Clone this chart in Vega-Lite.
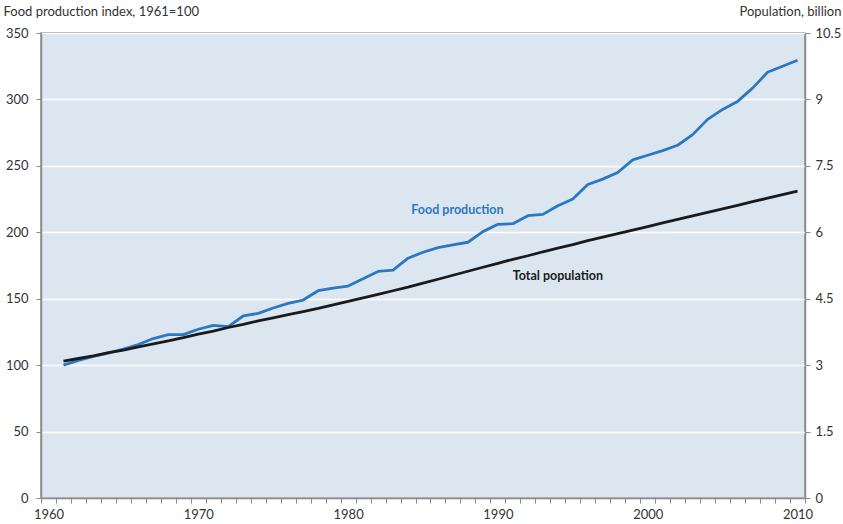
{
  "$schema": "https://vega.github.io/schema/vega-lite/v6.json",
  "width": 764,
  "height": 465,
  "autosize": "none",
  "padding": {"left": 41, "top": 33, "right": 38, "bottom": 26},
  "background": "white",
  "config": {
    "font": "Lato",
    "view": {"stroke": "#8c8c8c", "strokeWidth": 1.5, "fill": "#dce6f1"},
    "axis": {
      "labelFont": "Lato", "labelFontSize": 13, "labelColor": "#333333",
      "titleFont": "Lato", "titleFontSize": 13, "titleFontWeight": "normal", "titleColor": "#333333",
      "domainColor": "#8c8c8c", "domainWidth": 1.5, "tickColor": "#8c8c8c", "tickSize": 5, "tickWidth": 1
    }
  },
  "data": {"values": [
    {"year": 1961, "food": 100, "population": 3.09},
    {"year": 1962, "food": 103.5, "population": 3.15},
    {"year": 1963, "food": 106.5, "population": 3.21},
    {"year": 1964, "food": 109, "population": 3.28},
    {"year": 1965, "food": 112, "population": 3.34},
    {"year": 1966, "food": 115.5, "population": 3.41},
    {"year": 1967, "food": 120, "population": 3.48},
    {"year": 1968, "food": 123, "population": 3.55},
    {"year": 1969, "food": 123, "population": 3.62},
    {"year": 1970, "food": 127, "population": 3.70},
    {"year": 1971, "food": 130, "population": 3.77},
    {"year": 1972, "food": 129, "population": 3.85},
    {"year": 1973, "food": 137, "population": 3.92},
    {"year": 1974, "food": 139, "population": 4.00},
    {"year": 1975, "food": 143, "population": 4.07},
    {"year": 1976, "food": 146.5, "population": 4.14},
    {"year": 1977, "food": 149, "population": 4.21},
    {"year": 1978, "food": 156, "population": 4.28},
    {"year": 1979, "food": 158, "population": 4.36},
    {"year": 1980, "food": 159.5, "population": 4.44},
    {"year": 1981, "food": 165, "population": 4.52},
    {"year": 1982, "food": 170.5, "population": 4.60},
    {"year": 1983, "food": 171.5, "population": 4.68},
    {"year": 1984, "food": 180.5, "population": 4.76},
    {"year": 1985, "food": 185, "population": 4.85},
    {"year": 1986, "food": 188.5, "population": 4.94},
    {"year": 1987, "food": 190.5, "population": 5.03},
    {"year": 1988, "food": 192.5, "population": 5.12},
    {"year": 1989, "food": 200.5, "population": 5.21},
    {"year": 1990, "food": 206, "population": 5.30},
    {"year": 1991, "food": 206.5, "population": 5.39},
    {"year": 1992, "food": 212.5, "population": 5.47},
    {"year": 1993, "food": 213.5, "population": 5.56},
    {"year": 1994, "food": 220, "population": 5.64},
    {"year": 1995, "food": 225, "population": 5.72},
    {"year": 1996, "food": 236, "population": 5.81},
    {"year": 1997, "food": 240, "population": 5.89},
    {"year": 1998, "food": 245, "population": 5.97},
    {"year": 1999, "food": 254.5, "population": 6.05},
    {"year": 2000, "food": 258, "population": 6.13},
    {"year": 2001, "food": 261.5, "population": 6.21},
    {"year": 2002, "food": 265.5, "population": 6.29},
    {"year": 2003, "food": 273.5, "population": 6.37},
    {"year": 2004, "food": 285, "population": 6.45},
    {"year": 2005, "food": 292.5, "population": 6.53},
    {"year": 2006, "food": 298.5, "population": 6.61},
    {"year": 2007, "food": 308.5, "population": 6.69},
    {"year": 2008, "food": 320.5, "population": 6.77},
    {"year": 2009, "food": 325, "population": 6.85},
    {"year": 2010, "food": 329.5, "population": 6.93}
  ]},
  "encoding": {
    "x": {
      "field": "year", "type": "quantitative",
      "scale": {"domain": [1959.5, 2010.5], "nice": false, "zero": false},
      "axis": {
        "title": null, "grid": false,
        "values": [1959.5,1960.5,1961.5,1962.5,1963.5,1964.5,1965.5,1966.5,1967.5,1968.5,1969.5,1970.5,1971.5,1972.5,1973.5,1974.5,1975.5,1976.5,1977.5,1978.5,1979.5,1980.5,1981.5,1982.5,1983.5,1984.5,1985.5,1986.5,1987.5,1988.5,1989.5,1990.5,1991.5,1992.5,1993.5,1994.5,1995.5,1996.5,1997.5,1998.5,1999.5,2000.5,2001.5,2002.5,2003.5,2004.5,2005.5,2006.5,2007.5,2008.5,2009.5,2010.5,1960,1970,1980,1990,2000,2010],
        "labelExpr": "datum.value % 10 === 0 ? '' + datum.value : ''",
        "tickOpacity": {"condition": {"test": "datum.value % 1 === 0", "value": 0}, "value": 1},
        "labelPadding": 5, "labelOverlap": false, "labelBound": false, "labelFlush": false
      }
    }
  },
  "layer": [
    {
      "layer": [
        {
          "mark": {"type": "line", "color": "#2b78c2", "strokeWidth": 2.8, "strokeJoin": "round"},
          "encoding": {
            "y": {
              "field": "food", "type": "quantitative",
              "scale": {"domain": [0, 350], "nice": false},
              "axis": {
                "orient": "left", "values": [0,50,100,150,200,250,300,350],
                "grid": true, "gridColor": "#ffffff", "gridWidth": 1.5,
                "title": "Food production index, 1961=100",
                "titleAngle": 0, "titleAlign": "left", "titleBaseline": "alphabetic",
                "titleX": -38, "titleY": -18, "labelPadding": 8
              }
            }
          }
        },
        {
          "transform": [{"filter": "datum.year === 1961"}],
          "mark": {"type": "text", "color": "#2b78c2", "fontWeight": "bold", "fontSize": 12.5, "font": "Lato"},
          "encoding": {
            "x": {"datum": 1987.3},
            "y": {"datum": 217},
            "text": {"value": "Food production"}
          }
        },
        {
          "transform": [{"filter": "datum.year === 1961"}],
          "mark": {"type": "text", "color": "#1a1a1a", "fontWeight": "bold", "fontSize": 12.5, "font": "Lato"},
          "encoding": {
            "x": {"datum": 1994.0},
            "y": {"datum": 167.4},
            "text": {"value": "Total population"}
          }
        }
      ]
    },
    {
      "mark": {"type": "line", "color": "#1a1a1a", "strokeWidth": 2.8, "strokeJoin": "round"},
      "encoding": {
        "y": {
          "field": "population", "type": "quantitative",
          "scale": {"domain": [0, 10.5], "nice": false},
          "axis": {
            "orient": "right",
            "values": [0, 1.5, 3, 4.5, 6, 7.5, 9, 10.5],
            "labelExpr": "'' + datum.value",
            "grid": false,
            "title": "Population, billion",
            "titleAngle": 0, "titleAlign": "right", "titleBaseline": "alphabetic",
            "titleX": 36, "titleY": -18, "labelPadding": 5
          }
        }
      }
    }
  ],
  "resolve": {"scale": {"y": "independent"}}
}
